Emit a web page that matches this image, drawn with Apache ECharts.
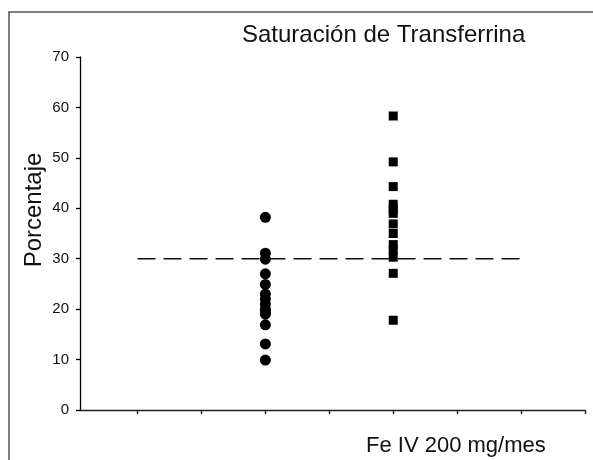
<!DOCTYPE html>
<html>
<head>
<meta charset="utf-8">
<script src="https://cdn.jsdelivr.net/npm/echarts@6/dist/echarts.min.js"></script>
<style>html,body{margin:0;padding:0;background:#fff;}#c{width:593px;height:460px;}</style>
</head>
<body>
<div id="c"></div>
<script>
var titleText = 'Saturación de Transferrina';
var yName = 'Porcentaje';
var xName = 'Fe IV 200 mg/mes';
var yTicks = [0, 10, 20, 30, 40, 50, 60, 70];
var xTicks = [1, 2, 3, 4, 5, 6, 7, 8];
var groupAx = 3;
var groupBx = 5;
var groupA = [38.2, 31.1, 29.9, 27.0, 24.9, 23, 22, 21, 20, 19.5, 19, 16.9, 13.1, 9.9];
var groupB = [58.3, 49.2, 44.3, 40.8, 39.8, 39.0, 36.9, 35.0, 32.8, 31.7, 30.3, 27.1, 17.8];
var refLevel = 30;
var refFrom = 1, refTo = 7;

var FONT = 'Liberation Sans, Arial, sans-serif';
var chart = echarts.init(document.getElementById('c'), null, {renderer: 'canvas'});
chart.setOption({
  animation: false,
  backgroundColor: '#fff',
  grid: {left: 80, right: 8, top: 57, bottom: 50, containLabel: false},
  xAxis: {
    type: 'value', min: 0.1, max: 8,
    splitLine: {show: false},
    axisLine: {show: true, onZero: false, lineStyle: {color: '#222', width: 1.3}},
    axisTick: {show: true, inside: false, length: 4, customValues: xTicks, lineStyle: {color: '#222', width: 1.4}},
    axisLabel: {show: false}
  },
  yAxis: {
    type: 'value', min: 0, max: 70, interval: 10,
    splitLine: {show: false},
    axisLine: {show: true, lineStyle: {color: '#000', width: 1.3}},
    axisTick: {show: true, length: 4, lineStyle: {color: '#000', width: 1.3}},
    axisLabel: {show: true, margin: 11, fontSize: 15, color: '#111', fontFamily: FONT,
      customValues: yTicks}
  },
  series: [
    {
      type: 'line', data: [[refFrom, refLevel], [refTo, refLevel]],
      symbol: 'none', silent: true,
      lineStyle: {color: '#111', width: 1.6, type: [18, 8]}
    },
    {
      type: 'scatter', symbol: 'circle', symbolSize: 11,
      itemStyle: {color: '#000', opacity: 1},
      data: groupA.map(function (v) { return [groupAx, v]; })
    },
    {
      type: 'scatter', symbol: 'rect', symbolSize: 9,
      itemStyle: {color: '#000', opacity: 1},
      data: groupB.map(function (v) { return [groupBx, v]; })
    }
  ],
  graphic: [
    {type: 'rect', shape: {x: 9, y: 12, width: 600, height: 470}, style: {fill: 'none', stroke: '#555', lineWidth: 1.5}, silent: true},
    {type: 'text', x: 242, y: 35, style: {text: titleText, fontSize: 24, fontFamily: FONT, fill: '#111', align: 'left', verticalAlign: 'middle'}},
    {type: 'text', x: 366, y: 446, style: {text: xName, fontSize: 22, fontFamily: FONT, fill: '#111', align: 'left', verticalAlign: 'middle'}},
    {type: 'text', x: 34, y: 210, rotation: Math.PI / 2, style: {text: yName, fontSize: 24, fontFamily: FONT, fill: '#111', align: 'center', verticalAlign: 'middle'}}
  ]
});
</script>
</body>
</html>
